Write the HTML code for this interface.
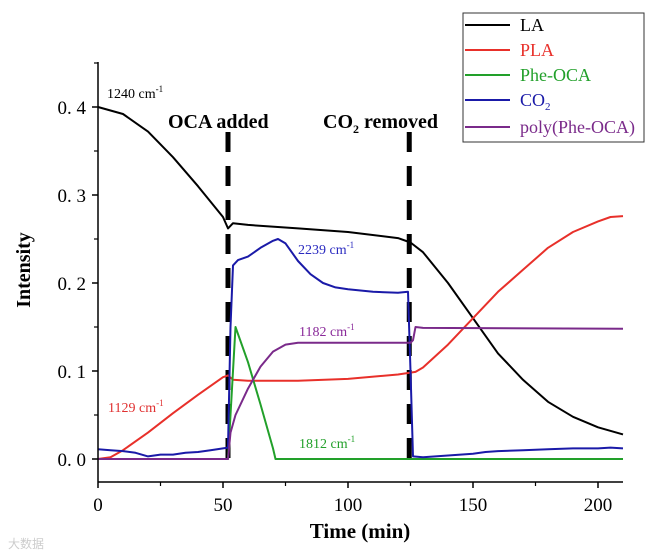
<!DOCTYPE html>
<html><head><meta charset="utf-8"><style>
html,body{margin:0;padding:0;background:#fff;}
svg{display:block;font-family:"Liberation Serif",serif;}
</style></head><body>
<svg id="chart" width="658" height="558" viewBox="0 0 658 558">
<g id="marks"></g>
<g id="axes"></g>
<rect x="463" y="13" width="181" height="129" fill="#fff" stroke="#333" stroke-width="1"/>
<g font-size="18">
<g><line x1="465" y1="25" x2="510" y2="25" stroke="#000" stroke-width="2"/><text x="520" y="31" fill="#000">LA</text></g>
<g><line x1="465" y1="50" x2="510" y2="50" stroke="#e8302a" stroke-width="2"/><text x="520" y="56" fill="#e8302a">PLA</text></g>
<g><line x1="465" y1="75" x2="510" y2="75" stroke="#22a02a" stroke-width="2"/><text x="520" y="81" fill="#22a02a">Phe-OCA</text></g>
<g><line x1="465" y1="100" x2="510" y2="100" stroke="#1a1aa8" stroke-width="2"/><text x="520" y="106" fill="#1a1aa8">CO<tspan font-size="11" dy="4">2</tspan></text></g>
<g><line x1="465" y1="127" x2="510" y2="127" stroke="#7a2a8a" stroke-width="2"/><text x="520" y="133" fill="#7a2a8a">poly(Phe-OCA)</text></g>
</g>
<text x="168" y="128" font-size="20" font-weight="bold">OCA added</text>
<text x="323" y="128" font-size="20" font-weight="bold">CO<tspan font-size="12" dy="5">2</tspan><tspan dy="-5"> removed</tspan></text>
<text x="107" y="98" font-size="14" fill="#000">1240 cm<tspan font-size="9" dy="-6">-1</tspan></text>
<text x="298" y="254" font-size="14" fill="#2a2ac0">2239 cm<tspan font-size="9" dy="-6">-1</tspan></text>
<text x="299" y="336" font-size="14" fill="#8a2a9a">1182 cm<tspan font-size="9" dy="-6">-1</tspan></text>
<text x="108" y="412" font-size="14" fill="#e03030">1129 cm<tspan font-size="9" dy="-6">-1</tspan></text>
<text x="299" y="448" font-size="14" fill="#22a02a">1812 cm<tspan font-size="9" dy="-6">-1</tspan></text>
<text transform="translate(30,270) rotate(-90)" text-anchor="middle" font-size="20" font-weight="bold">Intensity</text>
<text x="360" y="538" text-anchor="middle" font-size="21" font-weight="bold">Time (min)</text>
<text x="8" y="548" font-size="12" fill="#ccc" font-family="'Noto Sans CJK SC',sans-serif">大数据</text>
</svg>
<script>
const laT=[0,10,20,30,40,50,52,54,60,80,100,120,125,130,140,150,160,170,180,190,200,210];
const laV=[0.4,0.392,0.372,0.343,0.31,0.275,0.262,0.268,0.266,0.262,0.258,0.251,0.246,0.235,0.2,0.16,0.12,0.09,0.065,0.048,0.036,0.028];
const plaT=[0,5,10,20,30,40,50,52,54,60,80,100,120,127,130,140,150,160,170,180,190,200,205,210];
const plaV=[0,0.002,0.01,0.03,0.052,0.073,0.093,0.095,0.09,0.089,0.089,0.091,0.096,0.099,0.104,0.13,0.16,0.19,0.215,0.24,0.258,0.27,0.275,0.276];
const pheT=[0,52,53,55,60,65,70,71,210];
const pheV=[0,0,0.05,0.15,0.11,0.062,0.012,0,0];
const co2T=[0,5,10,15,20,25,30,35,40,45,50,52,53,54,56,60,65,70,72,75,80,85,90,95,100,110,120,124,125,126,130,135,140,145,150,155,160,170,180,190,200,205,210];
const co2V=[0.011,0.01,0.009,0.007,0.003,0.005,0.005,0.007,0.008,0.01,0.012,0.013,0.15,0.22,0.226,0.23,0.24,0.248,0.25,0.245,0.225,0.21,0.2,0.195,0.193,0.19,0.189,0.19,0.1,0.003,0.002,0.003,0.004,0.005,0.006,0.008,0.009,0.01,0.011,0.012,0.012,0.013,0.012];
const polyT=[0,52,53,55,60,65,70,75,80,125,126,127,130,210];
const polyV=[0,0,0.03,0.05,0.08,0.105,0.122,0.13,0.132,0.132,0.135,0.15,0.149,0.148];
const xTicks=[0,50,100,150,200];
const yTicks=[0,0.1,0.2,0.3,0.4];
const yTickLabels=["0. 0","0. 1","0. 2","0. 3","0. 4"];
const events=[52,124.5];
const X=t=>98+t*2.5;
const Y=v=>459-v*880;
const NS="http://www.w3.org/2000/svg";
const marks=document.getElementById('marks'), axes=document.getElementById('axes');
function mk(tag,attrs,parent){const e=document.createElementNS(NS,tag);for(const k in attrs)e.setAttribute(k,attrs[k]);parent.appendChild(e);return e;}
function series(T,V,color,name){
  const d=T.map((t,i)=>(i?'L':'M')+X(t).toFixed(1)+','+Y(V[i]).toFixed(1)).join(' ');
  const p=mk('path',{d:d,fill:'none',stroke:color,'stroke-width':2,'stroke-linejoin':'round'},marks);
  
  
}
events.forEach((t,i)=>{
  const l=mk('line',{x1:X(t),x2:X(t),y1:132,y2:459,stroke:'#000','stroke-width':5,'stroke-dasharray':'20 14'},marks);
  
  
});
series(laT,laV,'#000','series-la');
series(plaT,plaV,'#e8302a','series-pla');
series(pheT,pheV,'#22a02a','series-phe-oca');
series(co2T,co2V,'#1a1aa8','series-co2');
series(polyT,polyV,'#7a2a8a','series-poly-phe-oca');
const ya=mk('line',{x1:98,x2:98,y1:62,y2:482,stroke:'#000','stroke-width':1.5},axes);


const xa=mk('line',{x1:98,x2:623,y1:482,y2:482,stroke:'#000','stroke-width':1.5},axes);


xTicks.forEach((t,i)=>{
  mk('line',{x1:X(t),x2:X(t),y1:482,y2:488,stroke:'#000','stroke-width':1.5},axes);
  if(i<xTicks.length-1) mk('line',{x1:X(t+25),x2:X(t+25),y1:482,y2:486,stroke:'#000','stroke-width':1.2},axes);
  const tx=mk('text',{x:X(t),y:511,'text-anchor':'middle','font-size':19},axes);
  tx.textContent=t;
  
  
});
yTicks.forEach((v,i)=>{
  mk('line',{x1:92,x2:98,y1:Y(v),y2:Y(v),stroke:'#000','stroke-width':1.5},axes);
  mk('line',{x1:94,x2:98,y1:Y(v+0.05),y2:Y(v+0.05),stroke:'#000','stroke-width':1.2},axes);
  const tx=mk('text',{x:86,y:Y(v)+7,'text-anchor':'end','font-size':19},axes);
  tx.textContent=yTickLabels[i];
  
  
});
</script>
</body></html>
